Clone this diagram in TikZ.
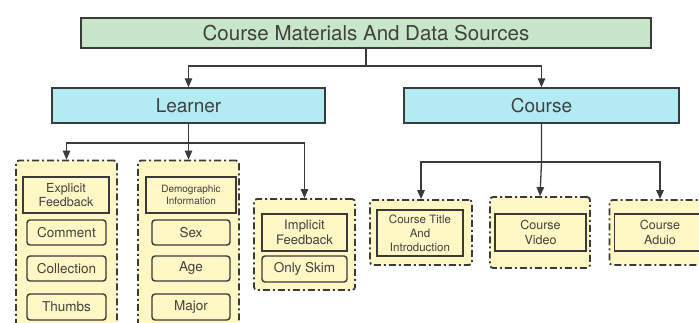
\documentclass[tikz,border=0pt]{standalone}
\usepackage{fontspec}
\setmainfont{TeX Gyre Heros}
\usetikzlibrary{arrows.meta}
\definecolor{ink}{HTML}{3A3A3A}
\definecolor{txt}{HTML}{404040}
\definecolor{rootfill}{HTML}{C8E6C9}
\definecolor{catfill}{HTML}{B2EBF2}
\definecolor{grpfill}{HTML}{FFF7C4}
\tikzset{
  box/.style={draw=ink, line width=1.4pt, inner sep=0pt, align=center, text=txt},
  rootbox/.style={box, fill=rootfill, font=\fontsize{20.5}{23}\selectfont},
  catbox/.style={box, fill=catfill, font=\fontsize{19}{22}\selectfont},
  group/.style={draw=ink, fill=grpfill, line width=1.8pt, rounded corners=3pt,
    dash pattern=on 7pt off 3pt on 2pt off 3pt, inner sep=0pt},
  headbox/.style={box, fill=grpfill},
  itembox/.style={box, fill=grpfill, rounded corners=3pt, font=\fontsize{13.5}{16}\selectfont},
  conn/.style={draw=ink, line width=1.3pt, -{Triangle[width=7.5pt,length=9pt]}},
}
\begin{document}
\begin{tikzpicture}[x=1pt,y=-1pt]
\useasboundingbox (0,0) rectangle (699,323);

% top level
\node[rootbox, minimum width=570pt, minimum height=30pt] (root) at (366,33) {Course Materials And Data Sources};
\node[catbox, minimum width=273pt, minimum height=35pt] (learner) at (188.5,105.5) {Learner};
\node[catbox, minimum width=275pt, minimum height=35pt] (course) at (541.5,105.5) {Course};

% learner groups
\node[group, minimum width=101pt, minimum height=170pt] (g1) at (66.5,245.5) {};
\node[group, minimum width=101pt, minimum height=170pt] (g2) at (188.5,245.5) {};
\node[group, minimum width=101pt, minimum height=91pt] (g3) at (304.5,244.5) {};
% course groups
\node[group, minimum width=102pt, minimum height=65pt] (g4) at (421,232.5) {};
\node[group, minimum width=100pt, minimum height=71pt] (g5) at (540,232.5) {};
\node[group, minimum width=101pt, minimum height=65pt] (g6) at (660,232.5) {};

% explicit feedback
\node[headbox, minimum width=86pt, minimum height=36pt, font=\fontsize{12.5}{14}\selectfont] (ef) at (66,195) {Explicit\\Feedback};
\node[itembox, minimum width=79pt, minimum height=25pt] (comment) at (66.5,232.5) {Comment};
\node[itembox, minimum width=79pt, minimum height=25pt] (collection) at (66.5,268.5) {Collection};
\node[itembox, minimum width=79pt, minimum height=26pt] (thumbs) at (66.5,307) {Thumbs};

% demographic information
\node[headbox, minimum width=90pt, minimum height=36pt, font=\fontsize{10}{12.5}\selectfont] (di) at (191,195) {Demographic\\Information};
\node[itembox, minimum width=78pt, minimum height=25pt] (sex) at (191,232.5) {Sex};
\node[itembox, minimum width=78pt, minimum height=25pt] (age) at (191,268.5) {Age};
\node[itembox, minimum width=78pt, minimum height=26pt] (major) at (191,307) {Major};

% implicit feedback
\node[headbox, minimum width=85pt, minimum height=37pt, font=\fontsize{13}{15}\selectfont] (if) at (304.5,232.5) {Implicit\\Feedback};
\node[itembox, minimum width=85pt, minimum height=26pt] (skim) at (304.5,269) {Only Skim};

% course materials
\node[headbox, minimum width=86pt, minimum height=46pt, font=\fontsize{11.5}{14}\selectfont] (cti) at (420,233) {Course Title\\And\\Introduction};
\node[headbox, minimum width=91pt, minimum height=37pt, font=\fontsize{12.5}{15}\selectfont] (cv) at (540.5,232.5) {Course\\Video};
\node[headbox, minimum width=91pt, minimum height=37pt, font=\fontsize{12.5}{15}\selectfont] (ca) at (660,232.5) {Course\\Aduio};

% connectors
\coordinate (j0) at (366,66);
\coordinate (j1) at (188.5,143);
\coordinate (j2) at (541.5,162);
\draw[conn] (root.south) -- (root.south |- j0) -| (learner.north);
\draw[conn] (root.south) -- (root.south |- j0) -| (course.north);
\draw[conn] (learner.south) -- (j1) -| (g1.north);
\draw[conn] (learner.south) -- (j1) -- (g2.north);
\draw[conn] (learner.south) -- (j1) -| (g3.north);
\draw[conn] (course.south) -- (j2) -| (g4.north);
\draw[conn] (course.south) -- (j2) -- (g5.north);
\draw[conn] (course.south) -- (j2) -| (g6.north);
\end{tikzpicture}
\end{document}
